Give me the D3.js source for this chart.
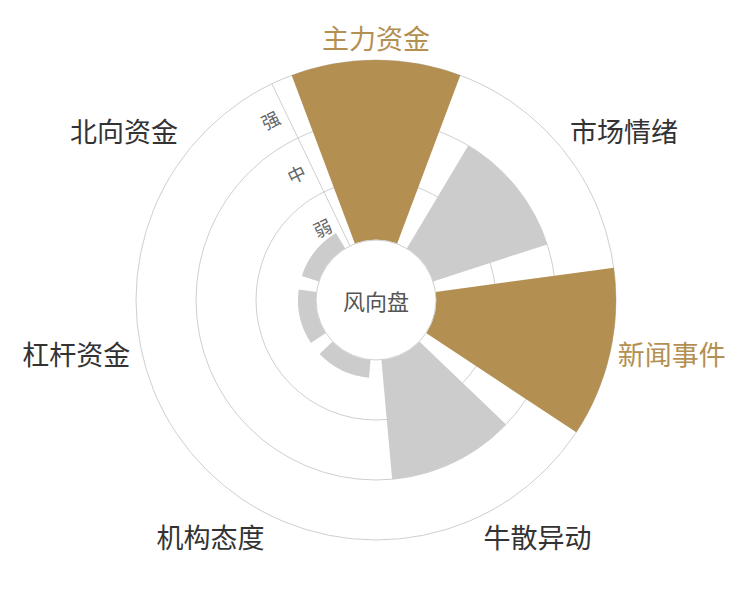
<!DOCTYPE html>
<html>
<head>
<meta charset="utf-8">
<script src="https://cdn.jsdelivr.net/npm/d3@7"></script>
<style>
  body { margin: 0; background: #fff; }
  svg { font-family: "Noto Sans CJK SC", "Noto Sans", sans-serif; }
</style>
</head>
<body>
<svg width="750" height="600"></svg>
<script>
// data
var categories = ["主力资金", "市场情绪", "新闻事件", "牛散异动", "机构态度", "杠杆资金", "北向资金"];
var values = [3, 2, 3, 2, 0.3, 0.3, 0.3];
var levels = ["弱", "中", "强"];

var svg = d3.select("svg");
var cx = 376, cy = 300;
var gold = "#b48f52", gray = "#cccccc", lineColor = "#cfcfcf";

var angle = d3.scaleBand().domain(categories).range([0, 2 * Math.PI])
  .paddingInner(0.2).paddingOuter(0.1);
var shift = -angle.step() / 2;
var r = d3.scaleLinear().domain([0, levels.length]).range([60, 240]);

var g = svg.append("g").attr("transform", "translate(" + cx + "," + cy + ")");

// grid circles
g.selectAll("circle.grid").data(levels.map(function(d, i){ return i + 1; }))
  .enter().append("circle").attr("class", "grid")
  .attr("r", function(d){ return r(d); })
  .attr("fill", "none").attr("stroke", lineColor).attr("stroke-width", 1);

// radial axis line
var a0 = shift;
g.append("line")
  .attr("x1", r(0) * Math.sin(a0)).attr("y1", -r(0) * Math.cos(a0))
  .attr("x2", r(levels.length) * Math.sin(a0)).attr("y2", -r(levels.length) * Math.cos(a0))
  .attr("stroke", lineColor);

// bars
var arc = d3.arc()
  .innerRadius(r(0))
  .outerRadius(function(d){ return r(d.v); })
  .startAngle(function(d){ return angle(d.c) + shift; })
  .endAngle(function(d){ return angle(d.c) + shift + angle.bandwidth(); });

var rows = categories.map(function(c, i){ return {c: c, v: values[i]}; });
g.selectAll("path.bar").data(rows).enter().append("path")
  .attr("class", "bar")
  .attr("d", arc)
  .attr("fill", function(d){ return d.v >= levels.length ? gold : gray; });

// center
g.append("circle").attr("r", r(0)).attr("fill", "#fff").attr("stroke", lineColor);
g.append("text").attr("x", 0).attr("y", 10)
  .attr("text-anchor", "middle").attr("font-size", 22).attr("fill", "#555")
  .text("风向盘");

// level labels along the radial axis
var deg = a0 * 180 / Math.PI;
g.selectAll("text.level").data(levels).enter().append("text")
  .attr("class", "level")
  .attr("transform", function(d, i){
    var rho = r(i + 0.5) - 3;
    var x = rho * Math.sin(a0) - 17 * Math.cos(a0);
    var y = -rho * Math.cos(a0) - 17 * Math.sin(a0);
    return "translate(" + x + "," + y + ") rotate(" + deg + ")";
  })
  .attr("text-anchor", "middle").attr("dy", "0.35em")
  .attr("font-size", 18).attr("fill", "#666")
  .text(function(d){ return d; });

// category labels
var fs = 27, R = r(levels.length) + 8;
g.selectAll("text.cat").data(rows).enter().append("text")
  .attr("class", "cat")
  .each(function(d){
    var a = angle(d.c) + shift + angle.bandwidth() / 2;
    var px = R * Math.sin(a), py = -R * Math.cos(a);
    var anchor = Math.abs(px) / R < 0.3 ? "middle" : (px > 0 ? "start" : "end");
    if (anchor == "end") px -= 4;
    var by;
    if (Math.abs(py) / R < 0.3) by = py + fs * 0.36;
    else if (py > 0) by = py + fs * 0.92;
    else by = py - 3;
    d3.select(this).attr("x", px).attr("y", by).attr("text-anchor", anchor);
  })
  .attr("font-size", fs)
  .attr("fill", function(d){ return d.v >= levels.length ? gold : "#333"; })
  .text(function(d){ return d.c; });
</script>
</body>
</html>
